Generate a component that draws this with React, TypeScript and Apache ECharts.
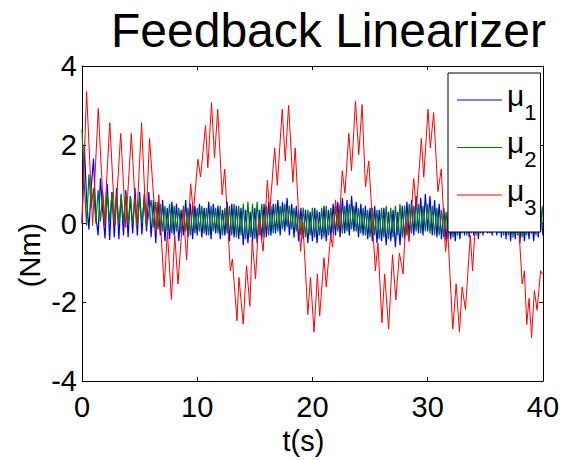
import React, { useEffect, useRef } from "react";
import * as echarts from "echarts";

// Sampling step of the μ1 / μ2 records (s)
const DT = 0.2;

// μ1 (blue), one value every DT seconds from t = 0 to 40
const mu1: number[] = [
  0, 2.0, 0.6, -0.15, 0.9, 1.65, 0.2, -0.3, 1.15, 0.3,
  -0.38, 1.0, -0.42, 0.8, -0.35, 0.9, -0.4, 0.75, -0.3, 0.85,
  -0.35, 0.7, -0.25, 0.9, -0.3, 0.8, -0.28, 0.75, -0.2, 0.8,
  -0.35, 0.6, -0.5, 0.55, -0.3, 0.6, -0.45, 0.4, -0.4, 0.55,
  -0.3, 0.5, -0.45, 0.35, -0.3, 0.6, -0.35, 0.5, -0.4, 0.45,
  -0.3, 0.5, -0.35, 0.4, -0.3, 0.55, -0.4, 0.5, -0.25, 0.45,
  -0.4, 0.35, -0.3, 0.55, -0.45, 0.5, -0.35, 0.45, -0.4, 0.4,
  -0.55, 0.35, -0.5, 0.3, -0.45, 0.4, -0.5, 0.35, -0.4, 0.5,
  -0.35, 0.55, -0.3, 0.5, -0.25, 0.6, -0.3, 0.55, -0.2, 0.65,
  -0.3, 0.5, -0.35, 0.45, -0.45, 0.4, -0.4, 0.35, -0.5, 0.3,
  -0.45, 0.4, -0.5, 0.3, -0.4, 0.45, -0.45, 0.35, -0.35, 0.5,
  -0.3, 0.55, -0.35, 0.65, -0.25, 0.6, -0.3, 0.7, -0.2, 0.55,
  -0.35, 0.5, -0.3, 0.45, -0.4, 0.4, -0.45, 0.45, -0.5, 0.35,
  -0.45, 0.4, -0.55, 0.3, -0.45, 0.35, -0.6, 0.3, -0.55, 0.45,
  -0.4, 0.55, -0.35, 0.6, -0.3, 0.7, -0.25, 0.65, -0.3, 0.75,
  -0.2, 0.7, -0.3, 0.6, -0.35, 0.5, -0.4, 0.4, -0.45, 0.35,
  -0.4, 0.3, -0.45, 0.35, -0.4, 0.4, -0.3, 0.45, -0.35, 0.5,
  -0.3, 0.45, -0.4, 0.5, -0.3, 0.55, -0.25, 0.5, -0.3, 0.6,
  -0.3, 0.5, -0.35, 0.45, -0.4, 0.4, -0.45, 0.35, -0.4, 0.4,
  -0.5, 0.3, -0.45, 0.35, -0.4, 0.3, -0.45, 0.4, -0.35, 0.45,
  -0.3,
];

// μ2 (green), one value every DT seconds from t = 0 to 40
const mu2: number[] = [
  2.4, 1.0, -0.05, 1.25, 0.4, 0.9, 0.0, 0.85, 0.05, 0.8,
  0.0, 0.75, 0.05, 0.8, -0.05, 0.75, 0.0, 0.7, 0.05, 0.75,
  -0.05, 0.7, 0.0, 0.65, -0.05, 0.7, 0.0, 0.6, -0.1, 0.25,
  0.6, -0.1, 0.55, -0.15, 0.5, -0.2, 0.45, -0.2, 0.5, -0.25,
  0.45, -0.2, 0.4, -0.25, 0.45, -0.2, 0.4, -0.3, 0.45, -0.25,
  0.4, -0.2, 0.45, -0.25, 0.4, -0.3, 0.45, -0.2, 0.4, -0.25,
  0.45, -0.3, 0.4, -0.25, 0.45, -0.3, 0.5, -0.35, 0.45, -0.3,
  0.5, -0.4, 0.55, -0.35, 0.5, -0.4, 0.55, -0.3, 0.5, -0.35,
  0.45, -0.3, 0.45, -0.25, 0.5, -0.2, 0.45, -0.15, 0.5, -0.1,
  0.45, -0.15, 0.4, -0.2, 0.35, -0.3, 0.4, -0.35, 0.35, -0.3,
  0.4, -0.35, 0.35, -0.3, 0.4, -0.35, 0.45, -0.3, 0.4, -0.25,
  0.45, -0.2, 0.5, -0.25, 0.45, -0.2, 0.5, -0.15, 0.45, -0.2,
  0.4, -0.25, 0.4, -0.3, 0.35, -0.35, 0.4, -0.3, 0.35, -0.4,
  0.4, -0.35, 0.45, -0.4, 0.4, -0.35, 0.45, -0.3, 0.5, -0.35,
  0.45, -0.3, 0.5, -0.25, 0.45, -0.2, 0.5, -0.25, 0.45, -0.2,
  0.5, -0.25, 0.45, -0.3, 0.4, -0.3, 0.35, -0.35, 0.3, -0.38,
  0.35, -0.35, 0.3, -0.3, 0.35, -0.25, 0.4, -0.3, 0.35, -0.25,
  0.4, -0.3, 0.45, -0.25, 0.4, -0.2, 0.45, -0.25, 0.4, -0.2,
  0.45, -0.25, 0.4, -0.3, 0.35, -0.3, 0.4, -0.35, 0.35, -0.3,
  0.4, -0.35, 0.35, -0.3, 0.4, -0.25, 0.35, -0.3, 0.4, -0.2,
  0.45,
];

// μ3 (red): sample times (s) and values (Nm)
const mu3T: number[] = [
  0, 0.4, 0.92, 1.41, 1.93, 2.41, 2.87, 3.36, 3.8, 4.28,
  4.72, 5.17, 5.55, 5.86, 6.44, 6.67, 7.13, 7.41, 7.76, 8.05,
  8.33, 8.79, 9.08, 9.43, 9.66, 10.06, 10.29, 10.72, 10.92, 11.24,
  11.5, 11.78, 12.16, 12.39, 12.87, 13.05, 13.45, 13.62, 13.99, 14.28,
  14.57, 14.77, 15.06, 15.34, 15.72, 16.09, 16.29, 16.72, 16.95, 17.38,
  17.64, 17.93, 18.3, 18.5, 18.97, 19.17, 19.6, 19.83, 20.14, 20.43,
  20.63, 21.0, 21.2, 21.58, 21.75, 22.0, 22.3, 22.59, 22.82, 23.16,
  23.39, 23.74, 24.02, 24.31, 24.6, 24.89, 25.46, 25.69, 26.03, 26.27,
  26.61, 26.95, 27.24, 27.55, 27.87, 28.1, 28.39, 28.79, 29.02, 29.45,
  29.66, 30.03, 30.23, 30.52, 30.89, 31.18, 31.55, 31.75, 32.18, 32.47,
  32.76, 32.99, 33.28, 33.7, 33.9, 34.2, 34.5, 34.9, 35.2, 35.6,
  35.9, 36.3, 36.6, 36.9, 37.3, 37.6, 38.2, 38.4, 38.6, 38.8,
  39.02, 39.26, 39.5, 39.8, 40,
];
const mu3V: number[] = [
  0, 3.35, -0.05, 2.92, -0.05, 2.56, -0.05, 2.29, -0.1, 2.29,
  -0.08, 2.56, 0.0, 2.16, -0.26, 0.73, -1.61, -0.21, -1.93, -0.3,
  -1.53, 0.36, -0.92, 1.01, 0.28, 1.63, 1.18, 2.49, 1.42, 3.07,
  1.67, 2.9, 0.73, 1.38, -1.2, -0.9, -2.47, -1.37, -2.55, -1.07,
  -2.1, -0.42, -1.41, 0.11, -0.7, 1.1, 0.28, 1.92, 0.97, 2.9,
  1.59, 3.0, 1.05, 1.92, -0.71, 0.03, -2.31, -1.37, -2.76, -1.28,
  -2.35, -0.87, -1.61, -0.3, -0.6, 0.6, -0.13, 1.34, 0.77, 2.29,
  1.34, 3.11, 1.75, 3.02, 0.93, 1.59, -1.2, -0.5, -2.52, -1.28,
  -2.68, -0.79, -1.94, -0.75, -1.28, 0.11, -0.46, 1.14, 0.36, 2.16,
  1.18, 2.9, 1.92, 2.82, 0.81, 1.38, -0.71, -0.22, -2.68, -1.53,
  -2.76, -1.61, -2.18, -0.3, -1.2, 0.3, -0.2, 1.2, 0.6, 2.2,
  1.5, 3.0, 1.9, 2.9, 1.0, 1.5, -1.53, -1.2, -2.56, -1.9,
  -2.9, -1.7, -2.2, -1.2, -1.3,
];

const X_TICKS = [0, 10, 20, 30, 40];
const Y_TICKS = [-4, -2, 0, 2, 4];
const SERIES_NAMES = ["μ1", "μ2", "μ3"];
const COLORS = ["#0000ff", "#008000", "#ff0000"];

const FONT = "Liberation Sans, Arial, Helvetica, sans-serif";

export default function App() {
  const ref = useRef<HTMLDivElement>(null);

  useEffect(() => {
    if (!ref.current) return;
    const chart = echarts.init(ref.current, undefined, { renderer: "svg" });

    const d1 = mu1.map((v, i) => [i * DT, v]);
    const d2 = mu2.map((v, i) => [i * DT, v]);
    const d3 = mu3V.map((v, i) => [mu3T[i], v]);

    const axisCommon = {
      type: "value" as const,
      axisLine: { show: true, onZero: false, lineStyle: { color: "#000", width: 1 } },
      axisTick: { show: true, inside: true, length: 4, lineStyle: { color: "#000" } },
      splitLine: { show: false },
    };

    chart.setOption({
      animation: false,
      backgroundColor: "#fff",
      title: {
        text: "Feedback Linearizer",
        left: 106,
        top: 1,
        textStyle: { fontFamily: FONT, fontSize: 48, fontWeight: "normal", color: "#000" },
      },
      grid: { left: 82, right: 16, top: 66, bottom: 68, containLabel: false },
      xAxis: [
        {
          ...axisCommon,
          position: "bottom",
          min: X_TICKS[0],
          max: X_TICKS[X_TICKS.length - 1],
          interval: 10,
          axisLabel: { fontFamily: FONT, fontSize: 29, color: "#000", margin: 11 },
          name: "t(s)",
          nameLocation: "middle",
          nameGap: 42,
          nameTextStyle: { fontFamily: FONT, fontSize: 29, color: "#000", padding: [0, 18, 0, 0] },
        },
        {
          ...axisCommon,
          position: "top",
          min: X_TICKS[0],
          max: X_TICKS[X_TICKS.length - 1],
          interval: 10,
          axisLabel: { show: false },
        },
      ],
      yAxis: [
        {
          ...axisCommon,
          position: "left",
          min: Y_TICKS[0],
          max: Y_TICKS[Y_TICKS.length - 1],
          interval: 2,
          axisLabel: { fontFamily: FONT, fontSize: 29, color: "#000", margin: 5 },
        },
        {
          ...axisCommon,
          position: "right",
          min: Y_TICKS[0],
          max: Y_TICKS[Y_TICKS.length - 1],
          interval: 2,
          axisLabel: { show: false },
        },
      ],
      graphic: [
        {
          type: "text",
          x: 30,
          y: 255,
          rotation: Math.PI / 2,
          style: {
            text: "(Nm)",
            fontFamily: FONT,
            fontSize: 29,
            fill: "#000",
            textAlign: "center",
            textVerticalAlign: "middle",
          },
        },
      ],
      legend: {
        data: SERIES_NAMES,
        orient: "vertical",
        left: 448,
        top: 73,
        backgroundColor: "#fff",
        borderColor: "#000",
        borderWidth: 1,
        borderRadius: 0,
        padding: [7, 4, 14, 9],
        icon: "rect",
        itemWidth: 45,
        itemHeight: 1,
        itemGap: 4.5,
        formatter: (name: string) => `{m|μ}{s|${name.slice(1)}}`,
        textStyle: {
          fontFamily: FONT,
          color: "#000",
          rich: {
            m: { fontFamily: FONT, fontSize: 30, color: "#000", padding: [0, 0, 10, 0] },
            s: { fontFamily: FONT, fontSize: 22, color: "#000", padding: [24, 0, 0, 0] },
          },
        },
      },
      series: [
        { name: SERIES_NAMES[0], type: "line", data: d1, symbol: "none", color: COLORS[0], lineStyle: { width: 1.2, color: COLORS[0] } },
        { name: SERIES_NAMES[1], type: "line", data: d2, symbol: "none", color: COLORS[1], lineStyle: { width: 1.2, color: COLORS[1] } },
        { name: SERIES_NAMES[2], type: "line", data: d3, symbol: "none", color: COLORS[2], lineStyle: { width: 1, color: COLORS[2] } },
      ],
    });

    return () => chart.dispose();
  }, []);

  return <div ref={ref} style={{ width: 562, height: 460, position: "absolute", left: 0, top: 0 }} />;
}
